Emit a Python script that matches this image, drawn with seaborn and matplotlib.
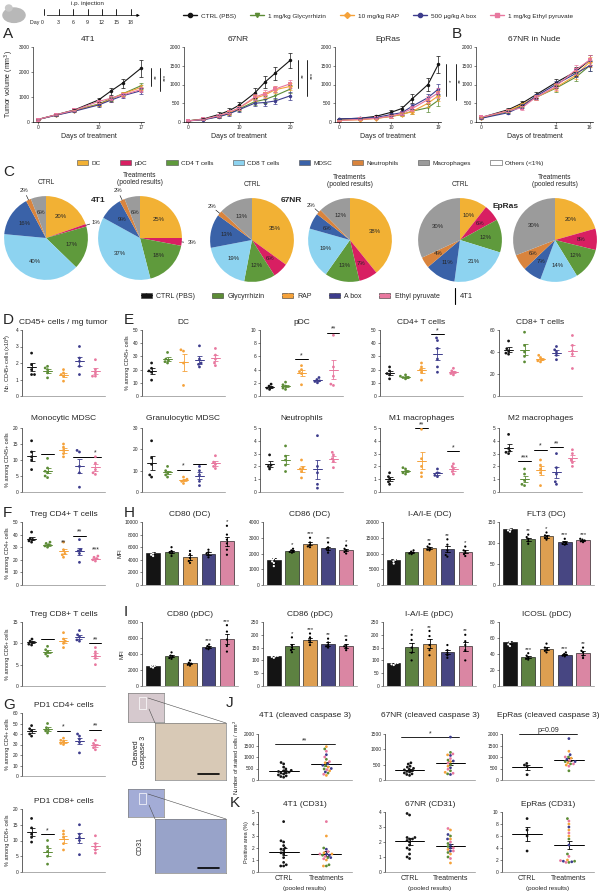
import numpy as np
import pandas as pd
import matplotlib
matplotlib.use("Agg")
import matplotlib.pyplot as plt
from matplotlib.patches import Patch, Ellipse, Rectangle
from matplotlib.lines import Line2D
import seaborn as sns

sns.set_style("ticks")
plt.rcParams['font.family'] = ['Liberation Sans', 'DejaVu Sans']
plt.rcParams['axes.linewidth'] = 0.5
plt.rcParams['xtick.major.width'] = 0.4
plt.rcParams['ytick.major.width'] = 0.4
plt.rcParams['xtick.major.size'] = 1.5
plt.rcParams['ytick.major.size'] = 1.5

##############################
# groups and colours
##############################
groups = ["CTRL (PBS)", "Glycyrrhizin", "RAP", "A box", "Ethyl pyruvate"]
legend_top = ["CTRL (PBS)", "1 mg/kg Glycyrrhizin", "10 mg/kg RAP",
              "500 µg/kg A box", "1 mg/kg Ethyl pyruvate"]
colors = ["#141414", "#5c8c36", "#f5a23a", "#3d3c8c", "#e8789f"]
markers = ["o", "v", "D", "o", "s"]
pal = dict(zip(groups, colors))

##############################
# A / B tumour growth
##############################
days_4t1 = [0, 3, 6, 10, 12, 14, 17]
vol_4t1 = [[100, 290, 480, 880, 1230, 1560, 2150],
           [100, 280, 460, 720, 930, 1130, 1450],
           [100, 280, 450, 700, 900, 1130, 1380],
           [100, 270, 430, 680, 870, 1050, 1250],
           [100, 290, 470, 820, 950, 1080, 1300]]
sem_4t1 = [[20, 30, 40, 90, 150, 180, 330]] + [[15, 20, 30, 60, 80, 90, 110]] * 4

days_67nr = [0, 3, 6, 8, 10, 13, 15, 17, 20]
vol_67nr = [[30, 80, 200, 300, 450, 770, 1060, 1300, 1650],
            [30, 70, 150, 230, 350, 540, 600, 700, 880],
            [30, 70, 150, 240, 380, 630, 720, 860, 950],
            [30, 60, 140, 220, 330, 500, 520, 560, 700],
            [30, 70, 170, 260, 380, 660, 760, 880, 1020]]
sem_67nr = [[5, 20, 60, 80, 90, 140, 160, 180, 200]] + [[5, 15, 40, 50, 60, 80, 90, 90, 100]] * 4

days_epras = [0, 4, 7, 10, 12, 14, 17, 19]
vol_epras = [[80, 100, 150, 260, 360, 620, 1000, 1540],
             [60, 80, 100, 150, 200, 290, 380, 580],
             [40, 60, 90, 150, 200, 280, 500, 700],
             [80, 100, 120, 200, 250, 420, 650, 880],
             [40, 70, 100, 160, 230, 360, 600, 780]]
sem_epras = [[10, 20, 30, 50, 80, 120, 180, 230]] + [[10, 15, 20, 40, 50, 70, 100, 140]] * 4

days_nude = [0, 4, 6, 8, 11, 14, 16]
vol_nude = [[120, 330, 500, 720, 1050, 1350, 1650],
            [110, 280, 450, 650, 900, 1200, 1500],
            [110, 300, 470, 650, 920, 1250, 1600],
            [100, 250, 420, 680, 1000, 1300, 1500],
            [130, 300, 380, 650, 950, 1400, 1650]]
sem_nude = [[20, 40, 50, 70, 90, 110, 130]] * 5

##############################
# C pies
##############################
pie_labels = ["DC", "pDC", "CD4 T cells", "CD8 T cells", "MDSC", "Neutrophils",
              "Macrophages", "Others (<1%)"]
pie_colors = ["#f2b134", "#d81f62", "#5f9a3c", "#8dd3f0", "#3a62a8", "#d9843d",
              "#9b9b9b", "white"]
pie_4t1_ctrl = [20, 1, 17, 40, 16, 2, 6]
pie_4t1_trt = [25, 3, 18, 37, 9, 2, 6]
pie_67nr_ctrl = [35, 6, 12, 19, 13, 2, 13]
pie_67nr_trt = [38, 7, 13, 19, 6, 2, 12]
pie_epras_ctrl = [10, 6, 12, 21, 11, 4, 30]
pie_epras_trt = [20, 8, 12, 14, 7, 6, 30]

##############################
# D-G dot plots (4T1)
##############################
cd45 = [[2.6, 1.9, 1.6, 1.3, 1.3], [1.8, 1.7, 1.6, 1.4, 1.1], [1.6, 1.4, 1.3, 1.2, 0.9],
        [3.0, 2.3, 2.1, 1.8, 1.3], [2.2, 1.6, 1.4, 1.2, 1.2]]
dc = [[25, 21, 19, 18, 12], [33, 28, 27, 26, 25], [35, 34, 25, 8],
      [38, 28, 25, 24, 22], [36, 31, 28, 25, 23]]
pdc = [[1.8, 1.5, 1.3, 1.2, 1.0], [2.1, 1.7, 1.5, 1.2, 1.0], [4.6, 4.0, 3.7, 3.4, 1.7],
       [2.8, 2.5, 2.3, 2.2, 2.0], [9.2, 4.4, 3.0, 1.8, 1.6]]
cd4 = [[22, 19, 17, 16, 13], [16, 15, 14, 14, 13], [25, 22, 20, 18, 12],
       [44, 42, 36, 28, 22, 18], [21, 19, 18, 17, 16]]
cd8 = [[50, 43, 41, 39, 38], [58, 46, 40, 36, 31], [37, 35, 33, 32, 31],
       [45, 42, 40, 37, 33], [55, 46, 41, 38, 25]]
mono = [[16, 12.5, 11, 10, 7], [10.5, 7.5, 6.5, 6, 5, 4.5], [15, 14, 13, 12, 11],
        [13, 12.5, 8, 6, 1.5], [11, 9, 7, 6, 5.5]]
gran = [[24, 16, 13, 8, 7], [12, 10, 9, 8, 7], [7, 6, 5.5, 5, 4],
        [12, 10, 8, 5, 3], [17, 14, 13, 12, 11]]
neut = [[2.9, 2.1, 2.0, 1.8], [3.6, 2.8, 2.5, 2.1, 1.6], [2.5, 1.9, 1.8, 1.6, 1.1],
        [4.4, 2.0, 1.5, 0.6, 0.3], [3.1, 2.9, 2.6, 2.4, 1.9]]
m1 = [[1.5, 1.2, 1.0, 0.8, 0.6], [1.9, 1.8, 1.6, 1.5, 1.4], [4.9, 2.6, 2.0, 1.5, 1.2],
      [1.8, 1.5, 1.3, 1.2], [2.2, 2.0, 1.8, 1.6, 1.4]]
m2 = [[4.5, 3.4, 3.2, 3.1, 3.0], [1.8, 1.4, 0.9, 0.6, 0.5], [2.5, 2.1, 1.8, 1.5, 0.5],
      [3.0, 1.9, 1.4, 0.8, 0.6], [3.3, 3.0, 2.5, 2.3, 2.0]]
treg4 = [[42, 37, 36, 35, 34], [34, 33, 32, 31, 30], [34, 28, 25, 24, 22],
         [36, 28, 27, 25, 18], [23, 22, 21, 20, 19]]
treg8 = [[11, 10.5, 10.2, 9.8, 9.6], [9.3, 8.5, 8, 7.5, 7], [12.5, 11, 10.5, 10, 9],
         [13, 12, 11.5, 10.8, 10.5], [9, 8, 7.2, 6.5, 5]]
pd1_cd4 = [[48, 45, 43, 40, 38], [50, 46, 44, 43, 41], [36, 34, 33, 31, 30],
           [40, 38, 35, 32, 22], [34, 31, 29, 27, 25]]
pd1_cd8 = [[17, 14, 12, 11, 9.5], [10, 8, 6.5, 5, 2.5], [13, 12, 11, 9, 7],
           [15, 12, 11, 10, 5.5], [11.5, 9, 8, 7, 6]]

##############################
# H / I bar plots (MFI)
##############################
cd80_dc = [[5600, 5200, 5000, 4800, 4600], [6000, 5400, 5200, 5000, 4600],
           [5400, 4900, 4300, 3800, 3500], [5600, 5200, 5000, 4800, 4400],
           [9400, 8000, 7200, 6600, 5600, 4800]]
cd86_dc = [[2000, 1700, 1500, 1400, 1200], [2300, 2200, 2150, 2100, 2050],
           [3000, 2700, 2550, 2450, 2400], [2700, 2400, 2300, 2200, 2050],
           [2500, 2300, 2200, 2100, 2000]]
iaie_dc = [[9000, 8500, 8000, 7500, 6800], [11000, 10600, 10300, 10000, 9800],
           [13000, 12200, 11800, 11200, 11000], [14500, 12800, 11000, 9500, 9000],
           [12200, 11000, 10500, 9800, 9200]]
flt3_dc = [[145, 135, 132, 130, 127], [120, 114, 110, 104, 98], [125, 118, 115, 112, 108],
           [110, 102, 100, 98, 96], [110, 108, 106, 104, 102]]
cd80_pdc = [[2800, 2600, 2500, 2400, 2300], [4200, 3800, 3650, 3500, 3400],
            [3200, 2900, 2800, 2650, 2550], [5200, 5000, 4850, 4700, 4600],
            [7600, 6800, 5800, 5000, 4300]]
cd86_pdc = [[122, 118, 116, 114, 110], [190, 160, 150, 140, 132], [205, 190, 178, 170, 160],
            [185, 170, 160, 155, 150], [180, 160, 155, 150, 140]]
iaie_pdc = [[95, 90, 88, 85, 82], [200, 180, 150, 130, 100], [215, 195, 160, 140, 120],
            [160, 140, 130, 120, 110], [200, 175, 160, 140, 100]]
icosl_pdc = [[60, 57, 55, 52, 50], [41, 38, 36, 34, 33], [53, 48, 46, 44, 42],
             [42, 40, 39, 38, 37], [48, 44, 42, 38, 35]]

##############################
# J / K pooled plots (CTRL vs treatments; treatments listed per drug)
##############################
casp_4t1_ctrl = [760, 700, 560, 480, 420, 400, 370, 340, 320, 300, 260, 220, 180, 150, 120]
casp_4t1_trt = [[1350, 900, 620, 480, 300], [1450, 750, 560, 400, 200],
                [1100, 700, 640, 500, 350], [1250, 1000, 800, 450, 250]]
casp_67nr_ctrl = [560, 520, 450, 420, 380, 350, 330, 300, 280, 260, 230, 200, 180, 150]
casp_67nr_trt = [[900, 650, 500, 300, 200], [820, 600, 450, 250],
                 [1400, 800, 620, 400, 180], [850, 700, 550, 350, 220]]
casp_epras_ctrl = [720, 650, 600, 230]
casp_epras_trt = [[1000, 800, 700, 400], [1250, 950, 750, 650],
                  [1800, 1100, 900, 800], [1000, 850, 700, 600]]
cd31_4t1_ctrl = [4.2, 2.6, 2.5, 2.2, 2.0, 1.9, 1.8, 1.6, 1.5, 1.2, 0.8, 0.6, 0.5, 0.5]
cd31_4t1_trt = [[2.0, 1.4, 1.2, 0.6, 0.5], [3.0, 1.6, 1.5, 1.0, 0.5],
                [1.9, 1.5, 1.4, 1.2], [4.2, 1.7, 1.5, 1.3, 1.1]]
cd31_67nr_ctrl = [3.9, 3.8, 2.3, 2.3, 2.2, 2.2, 2.1, 2.0, 1.8, 1.6, 1.5, 1.2, 1.0, 0.9]
cd31_67nr_trt = [[2.4, 1.9, 1.7, 1.3, 1.0], [2.8, 2.2, 1.5, 1.2, 0.6],
                 [2.5, 2.2, 1.8, 1.6, 1.4], [2.9, 2.0, 1.6, 1.4, 0.9]]
cd31_epras_ctrl = [8.9, 7.0, 6.0, 3.5]
cd31_epras_trt = [[8.9, 5.5, 3.0, 1.8, 1.6], [8.0, 7.0, 6.0, 2.0],
                  [7.5, 4.5, 1.8, 1.7], [8.5, 6.5, 2.6, 1.9, 1.6]]

W, H = 600, 891
fig = plt.figure(figsize=(6, 8.91), dpi=100)


def px_axes(x0, y0, x1, y1):
    return fig.add_axes([x0 / W, 1 - y1 / H, (x1 - x0) / W, (y1 - y0) / H])


def ftext(x, y, s, **kw):
    fig.text(x / W, 1 - y / H, s, **kw)


def style(ax, title, ylim, yticks, ylabel=None, pad=4):
    ax.set_title(title, fontsize=6, pad=pad)
    ax.set_ylim(*ylim)
    ax.set_yticks(yticks)
    ax.tick_params(labelsize=3.5, pad=1)
    ax.set_xlabel("")
    ax.set_ylabel(ylabel if ylabel else "", fontsize=4, labelpad=2)
    sns.despine(ax=ax)
    ax.spines['bottom'].set_color('0.55')


def long(vals):
    return pd.DataFrame([(g, v) for g, vs in zip(groups, vals) for v in vs],
                        columns=["group", "value"])


def sig(ax, i0, i1, y, txt, line=True):
    if line:
        ax.plot([i0 - 0.38, i1 + 0.38], [y, y], color='black', lw=0.7, clip_on=False)
    ax.text((i0 + i1) / 2, y, txt, ha='center', va='bottom', fontsize=5, clip_on=False)


def mean_sem(ax, x, vals, color, half=0.3):
    v = np.array(vals, dtype=float)
    m = v.mean()
    s = v.std(ddof=1) / np.sqrt(len(v))
    ax.plot([x - half, x + half], [m, m], color=color, lw=0.7)
    ax.errorbar(x, m, yerr=s, color=color, capsize=1.8, elinewidth=0.6, capthick=0.6)


##############################
# top row: mouse, schedule and legend
##############################
ax = px_axes(1, 2, 27, 26)
ax.add_patch(Ellipse((0.5, 0.45), 0.85, 0.6, color="#b8b8b8"))
ax.add_patch(Ellipse((0.3, 0.75), 0.25, 0.25, color="#c8c8c8"))
ax.set_xlim(0, 1)
ax.set_ylim(0, 1)
ax.axis("off")

ax = px_axes(30, 0, 145, 28)
ax.set_xlim(-3, 21)
ax.set_ylim(0, 1)
ax.axis("off")
ax.annotate("", xy=(20.5, 0.45), xytext=(0, 0.45),
            arrowprops=dict(arrowstyle="-|>", lw=0.5, color="black", mutation_scale=4))
for d in [0, 3, 6, 9, 12, 15, 18]:
    ax.plot([d, d], [0.45, 0.68], color="black", lw=0.6)
    ax.text(d, 0.2, "Day 0" if d == 0 else str(d), fontsize=3.8,
            ha="right" if d == 0 else "center", va="center")
ax.text(9, 0.88, "i.p. injection", fontsize=4.5, ha="center", va="center")

top_handles = [Line2D([], [], color=c, marker=m, markersize=3, lw=1) for c, m in zip(colors, markers)]
fig.legend(top_handles, legend_top, loc="center", bbox_to_anchor=(378 / W, 1 - 16 / H),
           ncol=5, frameon=False, fontsize=4.6, handlelength=2.2, columnspacing=2.2,
           handletextpad=0.6)

##############################
# A / B growth curves
##############################


def growth(rect, days, vols, sems, title, xticks, ymax, yticks, ylabel=None):
    ax = px_axes(*rect)
    df = pd.DataFrame([(g, d, v) for g, vs in zip(groups, vols) for d, v in zip(days, vs)],
                      columns=["group", "day", "vol"])
    sns.lineplot(data=df, x="day", y="vol", hue="group", style="group", palette=pal,
                 markers=markers, dashes=False, markersize=2.5, linewidth=0.8,
                 markeredgewidth=0, legend=False, ax=ax)
    for g, vs, ss in zip(groups, vols, sems):
        ax.errorbar(days, vs, yerr=ss, fmt="none", ecolor=pal[g], elinewidth=0.5, capsize=1.5,
                    capthick=0.5)
    style(ax, title, (0, ymax), yticks, ylabel)
    ax.set_xticks(xticks)
    ax.set_xlim(-0.8, xticks[-1] + 0.5)
    ax.set_xlabel("Days of treatment", fontsize=5, labelpad=2)
    ax.spines['bottom'].set_color('black')
    return ax


ax = growth((33, 47, 144, 122), days_4t1, vol_4t1, sem_4t1, "4T1", [0, 10, 17], 3000,
            [0, 1000, 2000, 3000], "Tumor volume (mm$^3$)")
ax.set_ylabel("Tumor volume (mm$^3$)", fontsize=5, labelpad=2)
for x, y0, txt in [(18.6, 1450, "**"), (20.2, 1250, "***")]:
    ax.plot([x, x], [y0, 2150], color="black", lw=0.6, clip_on=False)
    ax.text(x + 0.5, 1800, txt, rotation=90, fontsize=4.5, va="center", ha="left", clip_on=False)

ax = growth((184, 47, 293, 122), days_67nr, vol_67nr, sem_67nr, "67NR", [0, 10, 20], 2000,
            [0, 500, 1000, 1500, 2000])
for x, y0, txt in [(21.5, 900, "**"), (23.3, 700, "***")]:
    ax.plot([x, x], [y0, 1650], color="black", lw=0.6, clip_on=False)
    ax.text(x + 0.5, 1250, txt, rotation=90, fontsize=4.5, va="center", ha="left", clip_on=False)

ax = growth((335, 47, 441, 122), days_epras, vol_epras, sem_epras, "EpRas", [0, 10, 19], 2000,
            [0, 500, 1000, 1500, 2000])
for x, y0, txt in [(20.5, 700, "*"), (22.3, 580, "**")]:
    ax.plot([x, x], [y0, 1550], color="black", lw=0.6, clip_on=False)
    ax.text(x + 0.5, 1100, txt, rotation=90, fontsize=4.5, va="center", ha="left", clip_on=False)

growth((476, 47, 593, 122), days_nude, vol_nude, sem_nude, "67NR in Nude", [0, 11, 16], 2000,
       [0, 500, 1000, 1500, 2000])

##############################
# C pies
##############################
pie_handles = [Patch(facecolor=c, edgecolor="0.3", linewidth=0.4) for c in pie_colors]
fig.legend(pie_handles, pie_labels, loc="center", bbox_to_anchor=(310 / W, 1 - 163 / H),
           ncol=8, frameon=False, fontsize=4.6, handlelength=1.8, handleheight=0.9,
           columnspacing=3.0, handletextpad=0.5)


def pie(cx, cy, vals, title):
    ax = px_axes(cx - 44, cy - 44, cx + 44, cy + 44)
    wedges, _ = ax.pie(vals, colors=pie_colors[:len(vals)], startangle=90, counterclock=False,
                       wedgeprops=dict(linewidth=0))
    tot = float(sum(vals))
    for w, v in zip(wedges, vals):
        a = np.deg2rad((w.theta1 + w.theta2) / 2)
        if v / tot >= 0.035:
            ax.text(0.62 * np.cos(a), 0.62 * np.sin(a), f"{v}%", fontsize=4.3,
                    ha="center", va="center")
        else:
            ax.plot([np.cos(a), 1.12 * np.cos(a)], [np.sin(a), 1.12 * np.sin(a)],
                    color="black", lw=0.4)
            ax.text(1.25 * np.cos(a), 1.25 * np.sin(a), f"{v}%", fontsize=4.3,
                    ha="center", va="center")
    ax.set_xlim(-1.05, 1.05)
    ax.set_ylim(-1.05, 1.05)
    ax.set_aspect("equal")
    ftext(cx, cy - 52, title, fontsize=4.8, ha="center", va="bottom", linespacing=1.0)


pie(46, 238, pie_4t1_ctrl, "CTRL")
pie(140, 238, pie_4t1_trt, "Treatments\n(pooled results)")
pie(252, 240, pie_67nr_ctrl, "CTRL")
pie(350, 240, pie_67nr_trt, "Treatments\n(pooled results)")
pie(460, 240, pie_epras_ctrl, "CTRL")
pie(555, 240, pie_epras_trt, "Treatments\n(pooled results)")
ftext(98, 200, "4T1", fontsize=6, fontweight="bold", ha="center", va="center")
ftext(291, 200, "67NR", fontsize=6, fontweight="bold", ha="center", va="center")
ftext(506, 207, "EpRas", fontsize=6, fontweight="bold", ha="center", va="center")

##############################
# group legend (4T1)
##############################
grp_handles = [(Patch(facecolor=c, edgecolor="0.2", linewidth=0.4),
                Line2D([], [], color=c, marker="+", markersize=3, lw=0.8)) for c in colors]
fig.legend(grp_handles, ["CTRL (PBS)", "Glycyrrhizin", "RAP", "A box", "Ethyl pyruvate"],
           loc="center", bbox_to_anchor=(290 / W, 1 - 296 / H), ncol=5, frameon=False,
           fontsize=5, handlelength=1.6, columnspacing=2.5, handletextpad=0.6)
fig.add_artist(Line2D([455 / W, 455 / W], [1 - 288 / H, 1 - 304 / H], color="black", lw=0.8))
ftext(466, 296, "4T1", fontsize=5.5, ha="center", va="center")


##############################
# dot plots
##############################
def dotplot(rect, vals, title, ylim, yticks, ylabel=None, sigs=(), pad=4):
    ax = px_axes(*rect)
    sns.swarmplot(data=long(vals), x="group", y="value", hue="group", palette=pal,
                  order=groups, size=2.0, ax=ax, legend=False, linewidth=0)
    for i, v in enumerate(vals):
        mean_sem(ax, i, v, colors[i])
    style(ax, title, ylim, yticks, ylabel, pad)
    ax.set_xticks([])
    ax.set_xlim(-0.6, 4.6)
    for s in sigs:
        sig(ax, *s)
    return ax


e_cols = [(142, 225), (260, 343), (380, 463), (499, 582)]
r1, r2 = (330, 396), (428, 492)

dotplot((22, r1[0], 105, r1[1]), cd45, "CD45+ cells / mg tumor", (0, 4), [0, 1, 2, 3, 4],
        "No. CD45+ cells (x10$^4$)")
dotplot((e_cols[0][0], r1[0], e_cols[0][1], r1[1]), dc, "DC", (0, 50), range(0, 51, 10),
        "% among CD45+ cells")
dotplot((e_cols[1][0], r1[0], e_cols[1][1], r1[1]), pdc, "pDC", (0, 10), range(0, 11, 2),
        sigs=[(2, 2, 5.6, "*"), (4, 4, 9.6, "**")])
dotplot((e_cols[2][0], r1[0], e_cols[2][1], r1[1]), cd4, "CD4+ T cells", (0, 50),
        range(0, 51, 10), sigs=[(3, 3, 47, "*")])
dotplot((e_cols[3][0], r1[0], e_cols[3][1], r1[1]), cd8, "CD8+ T cells", (0, 60),
        range(0, 61, 20))

dotplot((22, r2[0], 105, r2[1]), mono, "Monocytic MDSC", (0, 20), range(0, 21, 5),
        "% among CD45+ cells", sigs=[(1, 1, 12, ""), (3, 4, 11, ""), (4, 4, 11, "*", False)],
        pad=6)
dotplot((e_cols[0][0], r2[0], e_cols[0][1], r2[1]), gran, "Granulocytic MDSC", (0, 30),
        range(0, 31, 10), sigs=[(2, 2, 10.5, "*"), (3, 3, 13, "")], pad=6)
dotplot((e_cols[1][0], r2[0], e_cols[1][1], r2[1]), neut, "Neutrophils", (0, 5), range(0, 6),
        pad=6)
dotplot((e_cols[2][0], r2[0], e_cols[2][1], r2[1]), m1, "M1 macrophages", (0, 5), range(0, 6),
        sigs=[(2, 2, 5.0, "**"), (4, 4, 3.2, "*")], pad=6)
dotplot((e_cols[3][0], r2[0], e_cols[3][1], r2[1]), m2, "M2 macrophages", (0, 5), range(0, 6),
        sigs=[(1, 1, 2.4, "***"), (2, 2, 3.3, "*"), (3, 3, 3.5, "**")], pad=6)

dotplot((22, 522, 105, 585), treg4, "Treg CD4+ T cells", (0, 50), range(0, 51, 10),
        "% among CD4+ cells",
        sigs=[(2, 2, 31, "**", False), (3, 3, 39, "**"), (4, 4, 25, "***", False)])
dotplot((22, 622, 105, 686), treg8, "Treg CD8+ T cells", (0, 15), [0, 5, 10, 15],
        "% among CD8+ cells", sigs=[(1, 1, 11, ""), (4, 4, 10, "**")])
dotplot((22, 713, 105, 776), pd1_cd4, "PD1 CD4+ cells", (0, 60), range(0, 61, 10),
        "% among CD4+ cells", sigs=[(2, 2, 43, "*"), (4, 4, 44, "**")])
dotplot((22, 809, 105, 872), pd1_cd8, "PD1 CD8+ cells", (0, 20), range(0, 21, 5),
        "% among CD8+ cells", sigs=[(1, 1, 12, "*")])


##############################
# bar plots
##############################
def barpanel(rect, vals, title, ymax, yticks, stars, ylabel=None):
    ax = px_axes(*rect)
    df = long(vals)
    sns.barplot(data=df, x="group", y="value", hue="group", palette=pal, order=groups,
                errorbar="se", capsize=0.25, err_kws={"linewidth": 0.6, "color": "black"},
                edgecolor="black", linewidth=0.4, width=0.75, ax=ax, legend=False)
    dots = dict(zip(groups, ["white", "black", "black", "black", "black"]))
    sns.swarmplot(data=df, x="group", y="value", hue="group", palette=dots, order=groups,
                  size=1.6, ax=ax, legend=False, linewidth=0)
    for i, (v, st) in enumerate(zip(vals, stars)):
        if st:
            ax.text(i, max(v) + ymax * 0.02, st, ha="center", va="bottom", fontsize=4.5)
    style(ax, title, (0, ymax), yticks, ylabel)
    ax.set_xticks([])
    ax.set_xlim(-0.6, 4.6)
    return ax


h_cols = [(142, 238), (263, 357), (383, 476), (499, 594)]
hy, iy = (522, 585), (622, 686)
barpanel((h_cols[0][0], hy[0], h_cols[0][1], hy[1]), cd80_dc, "CD80 (DC)", 10000,
         range(0, 10001, 2000), ["", "", "", "", "*"], "MFI")
barpanel((h_cols[1][0], hy[0], h_cols[1][1], hy[1]), cd86_dc, "CD86 (DC)", 4000,
         range(0, 4001, 1000), ["", "*", "***", "**", "*"])
barpanel((h_cols[2][0], hy[0], h_cols[2][1], hy[1]), iaie_dc, "I-A/I-E (DC)", 20000,
         range(0, 20001, 5000), ["", "", "**", "**", "*"])
barpanel((h_cols[3][0], hy[0], h_cols[3][1], hy[1]), flt3_dc, "FLT3 (DC)", 150,
         [0, 50, 100, 150], ["", "**", "*", "***", "***"])
barpanel((h_cols[0][0], iy[0], h_cols[0][1], iy[1]), cd80_pdc, "CD80 (pDC)", 8000,
         range(0, 8001, 2000), ["", "", "", "***", "***"], "MFI")
barpanel((h_cols[1][0], iy[0], h_cols[1][1], iy[1]), cd86_pdc, "CD86 (pDC)", 250,
         range(0, 251, 50), ["", "*", "***", "**", "**"])
barpanel((h_cols[2][0], iy[0], h_cols[2][1], iy[1]), iaie_pdc, "I-A/I-E (pDC)", 250,
         range(0, 251, 50), ["", "*", "**", "", "**"])
barpanel((h_cols[3][0], iy[0], h_cols[3][1], iy[1]), icosl_pdc, "ICOSL (pDC)", 80,
         range(0, 81, 20), ["", "***", "", "***", "**"])


##############################
# micrographs (schematic blocks)
##############################
def micro(y_small, y_big, label, small_col, big_col, label_y):
    a = px_axes(128, y_small[0], 164, y_small[1])
    a.set_facecolor(small_col)
    a.set_xticks([])
    a.set_yticks([])
    for s in a.spines.values():
        s.set_color("0.5")
        s.set_linewidth(0.5)
    a.add_patch(Rectangle((0.3, 0.45), 0.2, 0.4, fill=False, lw=0.5, transform=a.transAxes))
    b = px_axes(155, y_big[0], 226, y_big[1])
    b.set_facecolor(big_col)
    b.set_xticks([])
    b.set_yticks([])
    for s in b.spines.values():
        s.set_color("0.5")
        s.set_linewidth(0.5)
    b.plot([0.6, 0.9], [0.1, 0.1], color="black", lw=1.2, transform=b.transAxes)
    fig.add_artist(Line2D([149 / W, 155 / W], [1 - (y_small[0] + 16) / H, 1 - y_big[0] / H],
                          color="0.3", lw=0.4))
    fig.add_artist(Line2D([148 / W, 226 / W], [1 - (y_small[0] + 5) / H, 1 - y_big[0] / H],
                          color="0.3", lw=0.4))
    ftext(140, label_y, label, rotation=90, fontsize=5, ha="center", va="center",
          linespacing=1.0)


micro((693, 722), (723, 780), "Cleaved\ncaspase 3", "#d6c9ce", "#d8c9b6", 752)
micro((789, 817), (819, 873), "CD31", "#a3acd6", "#98a3c9", 846)


##############################
# J / K pooled plots
##############################
def pooled(rect, ctrl, trt, title, ymax, yticks, ylabel=None, sig_txt=None, sig_y=None,
           bottom_labels=False, pad=4):
    ax = px_axes(*rect)
    rows = [("CTRL", groups[0], v) for v in ctrl]
    rows += [("Treatments", g, v) for g, vs in zip(groups[1:], trt) for v in vs]
    df = pd.DataFrame(rows, columns=["cond", "group", "value"])
    sns.swarmplot(data=df, x="cond", y="value", hue="group", palette=pal,
                  order=["CTRL", "Treatments"], hue_order=groups, size=2.0, ax=ax,
                  legend=False, linewidth=0)
    mean_sem(ax, 0, ctrl, "black", half=0.35)
    mean_sem(ax, 1, [v for vs in trt for v in vs], "black", half=0.35)
    style(ax, title, (0, ymax), yticks, ylabel, pad)
    ax.set_xlim(-0.6, 1.6)
    if bottom_labels:
        ax.set_xticks([0, 1])
        ax.set_xticklabels(["CTRL", "Treatments"], fontsize=5)
        ax.tick_params(axis="x", length=0, pad=2)
        ax.text(0.5, -0.24, "(pooled results)", transform=ax.transAxes, fontsize=4.5,
                ha="center", va="top")
    else:
        ax.set_xticks([])
    if sig_txt is not None:
        ax.plot([-0.2, 1.2], [sig_y, sig_y], color="black", lw=0.6, clip_on=False)
        ax.text(0.5, sig_y, sig_txt, ha="center", va="bottom", fontsize=5, clip_on=False)
    return ax


j_cols = [(258, 352), (385, 475), (502, 594)]
jy, ky = (734, 780), (812, 872)
pooled((j_cols[0][0], jy[0], j_cols[0][1], jy[1]), casp_4t1_ctrl, casp_4t1_trt,
       "4T1 (cleaved caspase 3)", 2000, range(0, 2001, 500),
       "Number of stained cells / mm$^2$", "**", 1550, pad=12)
pooled((j_cols[1][0], jy[0], j_cols[1][1], jy[1]), casp_67nr_ctrl, casp_67nr_trt,
       "67NR (cleaved caspase 3)", 1500, [0, 500, 1000, 1500], None, "*", 1400, pad=12)
pooled((j_cols[2][0], jy[0], j_cols[2][1], jy[1]), casp_epras_ctrl, casp_epras_trt,
       "EpRas (cleaved caspase 3)", 2000, range(0, 2001, 500), None, "p=0.09", 2000, pad=12)
pooled((j_cols[0][0], ky[0], j_cols[0][1], ky[1]), cd31_4t1_ctrl, cd31_4t1_trt,
       "4T1 (CD31)", 5, range(0, 6), "Positive area (%)", bottom_labels=True)
pooled((j_cols[1][0], ky[0], j_cols[1][1], ky[1]), cd31_67nr_ctrl, cd31_67nr_trt,
       "67NR (CD31)", 4, range(0, 5), bottom_labels=True)
pooled((j_cols[2][0], ky[0], j_cols[2][1], ky[1]), cd31_epras_ctrl, cd31_epras_trt,
       "EpRas (CD31)", 10, range(0, 11, 2), bottom_labels=True)

##############################
# panel letters
##############################
for x, y, s in [(3, 34, "A"), (452, 34, "B"), (3, 172, "C"), (3, 320, "D"), (124, 320, "E"),
                (3, 513, "F"), (124, 513, "H"), (124, 612, "I"), (3, 705, "G"),
                (226, 703, "J"), (230, 803, "K")]:
    ftext(x, y, s, fontsize=11, ha="left", va="center")

fig.savefig("out.png", dpi=100)
